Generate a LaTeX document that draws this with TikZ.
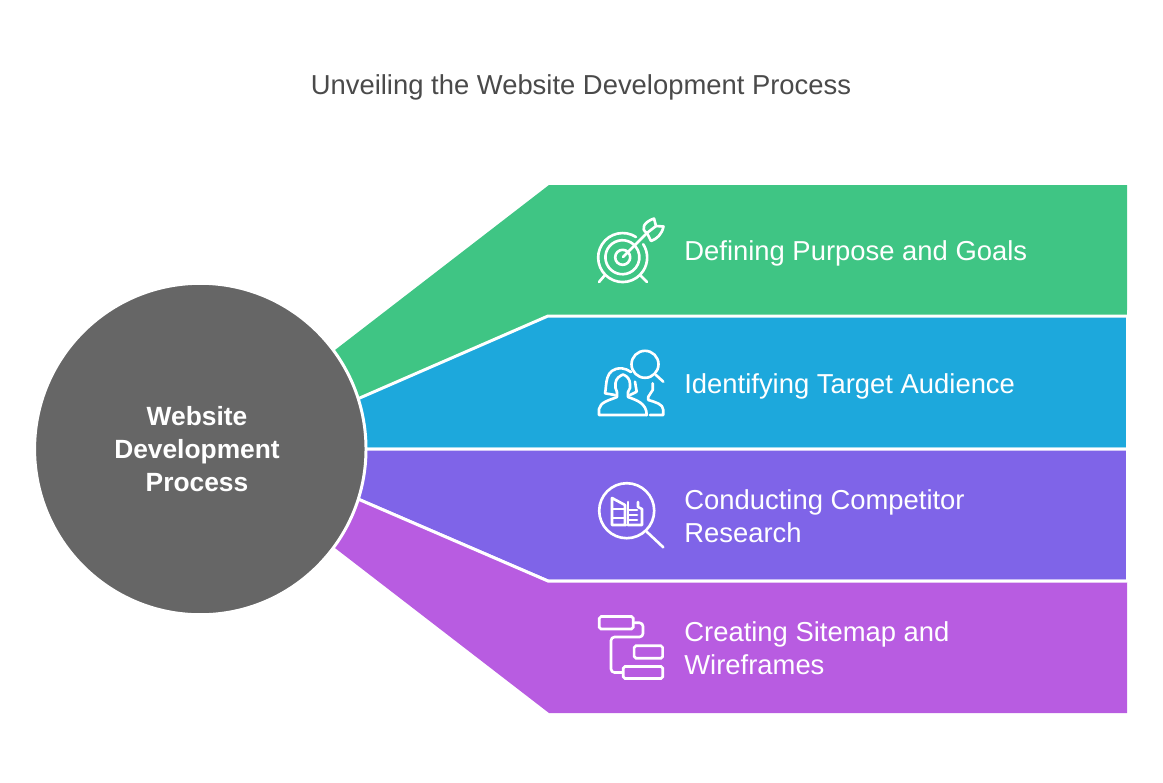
\documentclass[tikz,border=0pt]{standalone}
\usepackage{fontspec}
\setmainfont{Liberation Sans}
\usepackage{tikz}
\definecolor{goalgreen}{HTML}{3FC584}
\definecolor{audblue}{HTML}{1DA8DC}
\definecolor{rivalviolet}{HTML}{7F64E8}
\definecolor{mapmagenta}{HTML}{B85CE1}
\definecolor{hubgrey}{HTML}{666666}
\definecolor{titlegrey}{HTML}{4A4A4A}
\tikzset{
  band/.style={draw=white,line width=1.7pt,line join=miter},
  icon/.style={draw=white,line width=1.5pt,line cap=round,line join=round},
  steptext/.style={anchor=west,align=left,inner sep=0pt,text=white,font=\fontsize{15.6}{18.7}\selectfont},
  planbox/.style={draw=white,line width=1.5pt,rounded corners=1pt,inner sep=0pt}
}
\begin{document}
\begin{tikzpicture}[x=0.02cm,y=-0.02cm]
  \useasboundingbox (0,0) rectangle (1163,782);
  \draw (581,87) node (title) {\textcolor{titlegrey}{\fontsize{15.6}{18}\selectfont Unveiling the Website Development Process}};

  \fill[goalgreen] (300,377) -- (549,185) -- (1127,185) -- (1127,316) -- (548,316) -- (300,424) -- cycle;
  \draw[band,fill=audblue] (300,424) -- (548,316) -- (1127.5,316) -- (1127.5,449) -- (300,449) -- cycle;
  \draw[band,fill=rivalviolet] (300,449) -- (1127.5,449) -- (1127.5,581) -- (548,581) -- (300,474) -- cycle;
  \fill[mapmagenta] (300,474) -- (548,581.8) -- (1127,581.8) -- (1127,713) -- (549,713) -- (300,521) -- cycle;
  \fill[white] (1127,310) rectangle (1129,320);
  \draw[white,line width=1.7pt] (300,474) -- (548,581) -- (1127,581);

  \node[circle,fill=hubgrey,draw=white,line width=1.7pt,minimum size=6.63cm,inner sep=0pt] (hub) at (200.3,449) {};
  \draw (197,449) node (hubtext) {\parbox{6cm}{\centering\color{white}\bfseries\fontsize{15}{18.7}\selectfont Website\\Development\\Process}};

  \draw (684,253) node[steptext] (goals) {Defining Purpose and Goals};
  \draw (684,386) node[steptext] (audience) {Identifying Target Audience};
  \draw (684,516) node[steptext] (rivals) {Conducting Competitor\\Research};
  \draw (684,648) node[steptext] (sitemap) {Creating Sitemap and\\Wireframes};

  % target
  \draw[icon] (636,237) arc (-57:-393:24.5);
  \draw[icon] (636,247) arc (-37:-400:17);
  \draw[icon] (628,252) arc (-45:-405:7.5);
  \draw[icon] (623,257) -- (647,233);
  \draw[icon] (599,282) -- (605,275);
  \draw[icon] (647,282) -- (640,275);
  \draw[icon] (647,233) .. controls (640,229) and (644,222) .. (654,218.5) -- (656,226) -- (663.5,226.5) .. controls (662,234) and (657,239) .. (651,241) -- cycle;
  \draw[icon] (647,233) -- (656,226);

  % people
  \draw[icon] (645,364.3) circle (13.5);
  \draw[icon] (656,375) -- (663.3,381.7);
  \draw[icon] (646.7,415) -- (599,415) -- (599,409) .. controls (600,402) and (610,400) .. (617,397) -- (617,392);
  \draw[icon] (628,392) -- (628,397) .. controls (636,400) and (646.7,403) .. (646.7,415);
  \draw[icon] (630,395) -- (636.7,391.7) -- (635,381.7);
  \draw[icon] (617,392) -- (615.5,388) -- (615.5,383) .. controls (616,378) and (620,376) .. (623,374.5) .. controls (627,376) and (630,379) .. (630,384) -- (630,388) -- (628,392);
  \draw[icon] (615,395) -- (605,393.3) .. controls (607,385) and (604,368) .. (621.7,368.3) .. controls (625,368.5) and (628,370) .. (631,372);
  \draw[icon] (652.7,383.3) -- (652.7,390) -- (648.3,396.7) -- (648.3,400) .. controls (655,402) and (663.3,404) .. (663.3,410) -- (663.3,415) -- (650,415);

  % research
  \draw[icon] (626.7,510.7) circle (27.5);
  \draw[icon] (646.7,531.7) -- (663.3,547.3);
  \draw[icon] (626,525) -- (612,525) -- (612,498) -- (625,505) -- (625,525);
  \draw[icon] (612,509) -- (625,509);
  \draw[icon] (612,518) -- (625,518);
  \draw[icon] (628,525) -- (642,525) -- (642,509) -- (638,507) -- (638,502);
  \draw[icon] (628,502) -- (628,525);
  \draw[icon] (628,510) -- (637,510);
  \draw[icon] (628,515) -- (637,515);
  \draw[icon] (628,520) -- (637,520);

  % sitemap
  \node[planbox,minimum width=0.68cm,minimum height=0.25cm] (mapa) at (616.3,622.8) {};
  \node[planbox,minimum width=0.57cm,minimum height=0.25cm] (mapb) at (648.4,652) {};
  \node[planbox,minimum width=0.79cm,minimum height=0.24cm] (mapc) at (643,672.5) {};
  \coordinate (turna) at (643,637);
  \coordinate (turnb) at (611,637);
  \draw[icon,rounded corners=2pt] (mapa.east) -| (turna) -- (turnb) |- (mapc.west);
\end{tikzpicture}
\end{document}
